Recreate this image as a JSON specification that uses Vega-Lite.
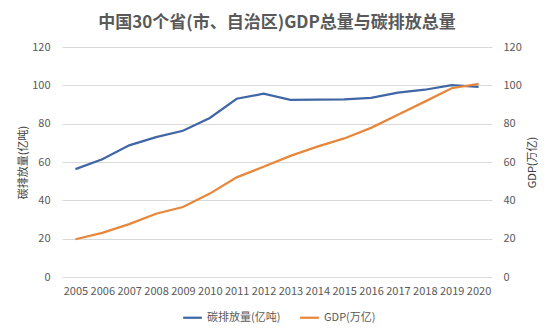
{
  "$schema": "https://vega.github.io/schema/vega-lite/v6.json",
  "width": 430,
  "height": 230,
  "autosize": {"type": "none"},
  "padding": {"left": 62, "top": 47, "right": 64, "bottom": 57},
  "background": "white",
  "title": {
    "text": "中国30个省(市、自治区)GDP总量与碳排放总量",
    "font": "Noto Sans CJK SC",
    "fontSize": 17,
    "fontWeight": "bold",
    "color": "#595959",
    "offset": 9,
    "anchor": "middle"
  },
  "data": {
    "values": [
      {"year": "2005", "carbon": 56.3, "gdp": 19.7},
      {"year": "2006", "carbon": 61.4, "gdp": 23.0},
      {"year": "2007", "carbon": 68.7, "gdp": 27.6},
      {"year": "2008", "carbon": 73.0, "gdp": 33.0},
      {"year": "2009", "carbon": 76.3, "gdp": 36.5},
      {"year": "2010", "carbon": 83.0, "gdp": 43.5},
      {"year": "2011", "carbon": 93.0, "gdp": 52.0},
      {"year": "2012", "carbon": 95.6, "gdp": 57.5},
      {"year": "2013", "carbon": 92.4, "gdp": 63.2},
      {"year": "2014", "carbon": 92.6, "gdp": 68.0},
      {"year": "2015", "carbon": 92.7, "gdp": 72.3},
      {"year": "2016", "carbon": 93.5, "gdp": 77.8},
      {"year": "2017", "carbon": 96.2, "gdp": 84.6},
      {"year": "2018", "carbon": 97.7, "gdp": 91.5},
      {"year": "2019", "carbon": 100.1, "gdp": 98.5},
      {"year": "2020", "carbon": 99.2, "gdp": 100.8}
    ]
  },
  "encoding": {
    "x": {
      "field": "year",
      "type": "ordinal",
      "scale": {"type": "point", "padding": 0.5},
      "axis": {
        "title": null,
        "labelAngle": 0,
        "domain": false,
        "ticks": false,
        "grid": false,
        "labelPadding": 8,
        "labelFontSize": 11,
        "labelColor": "#595959",
        "labelFont": "Noto Sans CJK SC"
      }
    }
  },
  "layer": [
    {
      "mark": {"type": "line", "strokeWidth": 2.25},
      "encoding": {
        "y": {
          "field": "carbon",
          "type": "quantitative",
          "scale": {"domain": [0, 120]},
          "axis": {
            "orient": "left",
            "title": "碳排放量(亿吨)",
            "values": [0, 20, 40, 60, 80, 100, 120],
            "domain": false,
            "ticks": false,
            "grid": true,
            "gridColor": "#D9D9D9",
            "gridWidth": 1,
            "labelPadding": 12,
            "labelFontSize": 11,
            "labelColor": "#595959",
            "labelFont": "Noto Sans CJK SC",
            "titleFont": "Noto Sans CJK SC",
            "titleFontSize": 11,
            "titleFontWeight": "normal",
            "titleColor": "#404040",
            "titlePadding": 3
          }
        },
        "color": {
          "datum": "碳排放量(亿吨)",
          "scale": {
            "domain": ["碳排放量(亿吨)", "GDP(万亿)"],
            "range": ["#4066A6", "#E8873A"]
          },
          "legend": {
            "title": null,
            "orient": "none",
            "legendX": 120,
            "legendY": 260,
            "direction": "horizontal",
            "symbolType": "stroke",
            "symbolSize": 350,
            "symbolStrokeWidth": 2.25,
            "labelFontSize": 11,
            "labelColor": "#595959",
            "labelFont": "Noto Sans CJK SC",
            "columnPadding": 14
          }
        }
      }
    },
    {
      "mark": {"type": "line", "strokeWidth": 2.25},
      "encoding": {
        "y": {
          "field": "gdp",
          "type": "quantitative",
          "scale": {"domain": [0, 120]},
          "axis": {
            "orient": "right",
            "title": "GDP(万亿)",
            "titleAngle": 270,
            "values": [0, 20, 40, 60, 80, 100, 120],
            "domain": false,
            "ticks": false,
            "grid": false,
            "labelPadding": 11,
            "labelFontSize": 11,
            "labelColor": "#595959",
            "labelFont": "Noto Sans CJK SC",
            "titleFont": "Noto Sans CJK SC",
            "titleFontSize": 11,
            "titleFontWeight": "normal",
            "titleColor": "#404040",
            "titlePadding": 16
          }
        },
        "color": {"datum": "GDP(万亿)"}
      }
    }
  ],
  "resolve": {"scale": {"y": "independent"}},
  "config": {"view": {"stroke": null}}
}
